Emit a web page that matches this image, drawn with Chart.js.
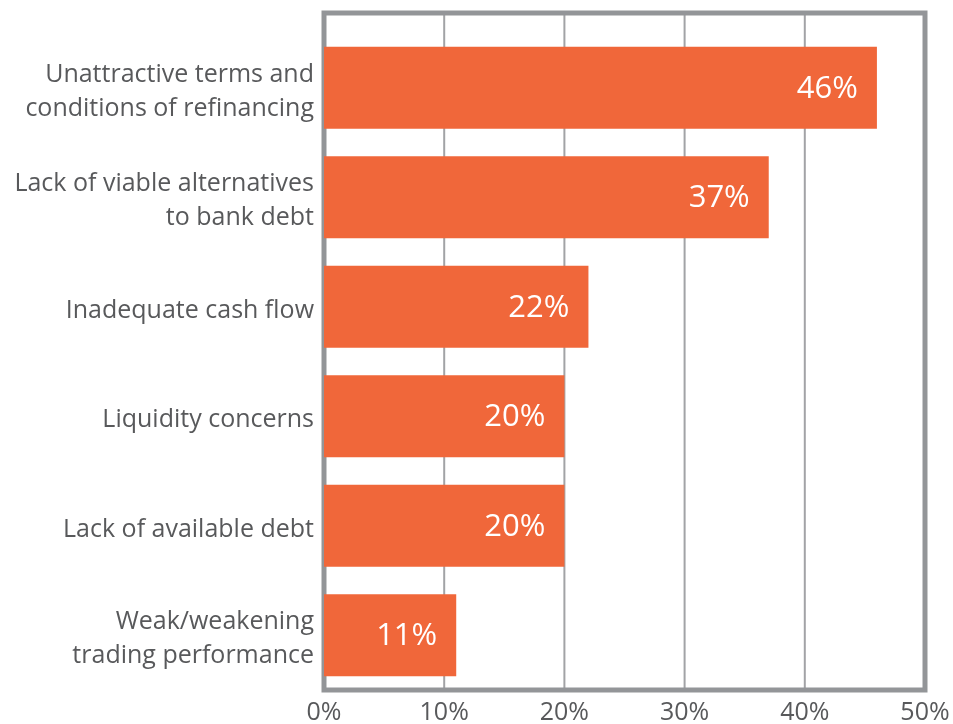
<!DOCTYPE html>
<html>
<head>
<meta charset="utf-8">
<script src="https://cdn.jsdelivr.net/npm/chart.js@4/dist/chart.umd.min.js"></script>
<style>
  html, body { margin: 0; padding: 0; background: #fff; }
  #wrap { width: 953px; height: 724px; }
</style>
</head>
<body>
<div id="wrap"><canvas id="myChart" width="953" height="724"></canvas></div>
<script>
    "use strict";

    // data
    const categories = [
        ['Unattractive terms and', 'conditions of refinancing'],
        ['Lack of viable alternatives', 'to bank debt'],
        'Inadequate cash flow',
        'Liquidity concerns',
        'Lack of available debt',
        ['Weak/weakening', 'trading performance']
    ];
    const shares = [46, 37, 22, 20, 20, 11];
    const tickValues = [0, 10, 20, 30, 40, 50];

    const orange = '#f0673a';
    const frameGray = '#939598';
    const textGray = '#58595b';

    // frame + gridlines, reaching above the bars a bit like the original
    const framePlugin = {
        id: 'frame',
        beforeDatasetsDraw(chart) {
            const ctx = chart.ctx;
            const area = chart.chartArea;
            const x = chart.scales.x;
            const top = area.top - 20;
            ctx.save();
            ctx.strokeStyle = '#a2a3a6';
            ctx.lineWidth = 2;
            tickValues.forEach(function (v) {
                const px = x.getPixelForValue(v);
                ctx.beginPath();
                ctx.moveTo(px, top);
                ctx.lineTo(px, area.bottom);
                ctx.stroke();
            });
            ctx.strokeStyle = frameGray;
            ctx.lineWidth = 5;
            ctx.strokeRect(area.left, top, area.right - area.left, area.bottom - top);
            ctx.restore();
        }
    };

    // white value labels inside bar ends
    const valueLabels = {
        id: 'valueLabels',
        afterDatasetsDraw(chart) {
            const ctx = chart.ctx;
            const meta = chart.getDatasetMeta(0);
            ctx.save();
            ctx.fillStyle = '#ffffff';
            ctx.font = '31px "Open Sans"';
            ctx.textAlign = 'right';
            ctx.textBaseline = 'middle';
            meta.data.forEach(function (bar, i) {
                ctx.fillText(shares[i] + '%', bar.x - 19, bar.y + 1);
            });
            ctx.restore();
        }
    };

    const ctx = document.getElementById('myChart').getContext('2d');
    const chart = new Chart(ctx, {
        type: 'bar',
        data: {
            labels: categories,
            datasets: [{
                data: shares,
                backgroundColor: orange,
                borderWidth: 0,
                categoryPercentage: 1,
                barPercentage: 0.75
            }]
        },
        options: {
            indexAxis: 'y',
            responsive: false,
            animation: false,
            layout: { padding: { top: 33, right: 28, left: 0, bottom: 0 } },
            plugins: {
                legend: { display: false },
                tooltip: { enabled: false }
            },
            scales: {
                x: {
                    min: 0,
                    max: 50,
                    afterBuildTicks(axis) {
                        axis.ticks = tickValues.map(v => ({ value: v }));
                    },
                    afterFit(axis) {
                        axis.height = 34;
                        axis.paddingLeft = 0;
                        axis.paddingRight = 0;
                    },
                    grid: { display: false, drawTicks: false },
                    border: { display: false },
                    ticks: {
                        color: textGray,
                        font: { family: 'Open Sans', size: 25 },
                        padding: 8,
                        maxRotation: 0,
                        callback: v => v + '%'
                    }
                },
                y: {
                    afterFit(axis) {
                        axis.width = 324;
                        axis.paddingTop = 0;
                        axis.paddingBottom = 0;
                    },
                    grid: { display: false, drawTicks: false },
                    border: { display: false },
                    ticks: {
                        color: textGray,
                        font: { family: 'Open Sans', size: 25, lineHeight: 1.36 },
                        padding: 10,
                        labelOffset: 4
                    }
                }
            }
        },
        plugins: [framePlugin, valueLabels]
    });
</script>
</body>
</html>
